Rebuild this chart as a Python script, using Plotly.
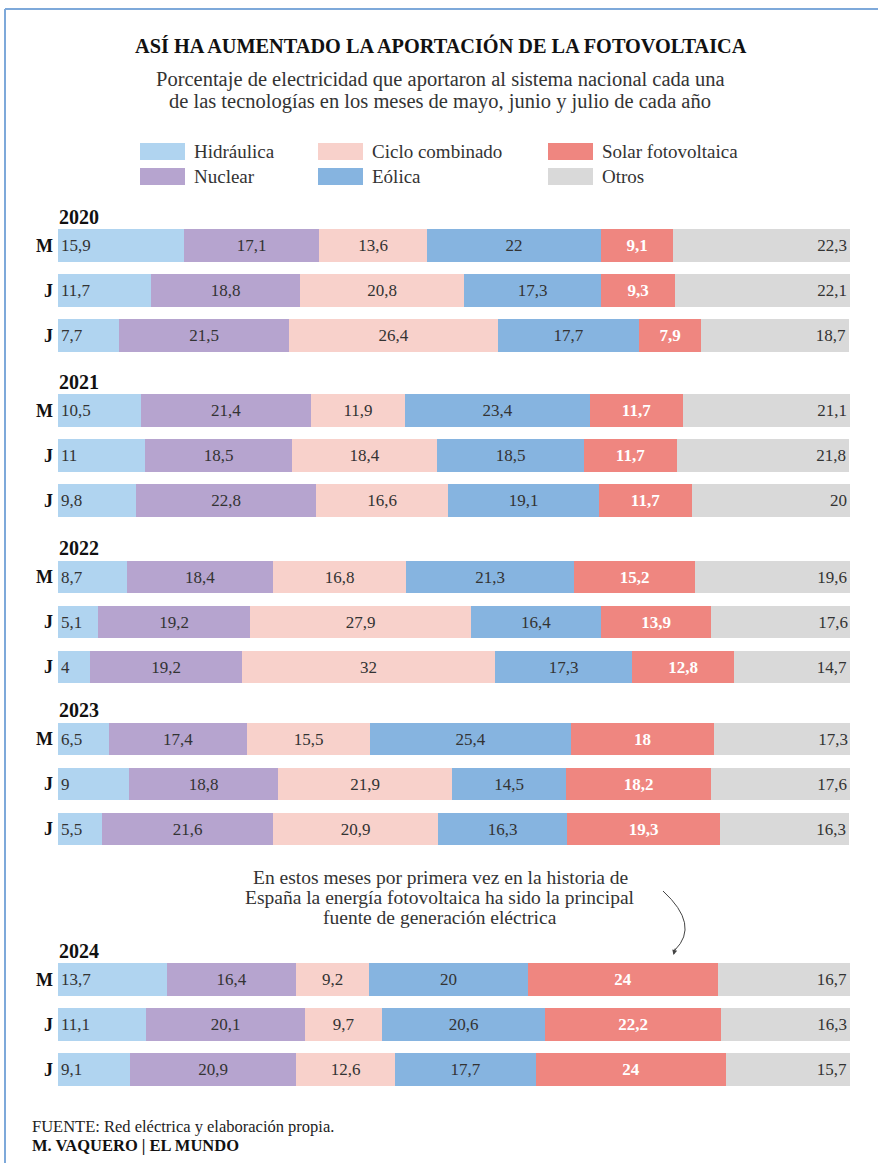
import plotly.graph_objects as go

W, H = 878, 1163

# ---------------- data ----------------
years = ["2020", "2021", "2022", "2023", "2024"]
months = ["M", "J", "J"]
series_names = ["Hidráulica", "Nuclear", "Ciclo combinado", "Eólica", "Solar fotovoltaica", "Otros"]

hidraulica = [15.9, 11.7, 7.7, 10.5, 11, 9.8, 8.7, 5.1, 4, 6.5, 9, 5.5, 13.7, 11.1, 9.1]
nuclear = [17.1, 18.8, 21.5, 21.4, 18.5, 22.8, 18.4, 19.2, 19.2, 17.4, 18.8, 21.6, 16.4, 20.1, 20.9]
ciclo = [13.6, 20.8, 26.4, 11.9, 18.4, 16.6, 16.8, 27.9, 32, 15.5, 21.9, 20.9, 9.2, 9.7, 12.6]
eolica = [22, 17.3, 17.7, 23.4, 18.5, 19.1, 21.3, 16.4, 17.3, 25.4, 14.5, 16.3, 20, 20.6, 17.7]
solar = [9.1, 9.3, 7.9, 11.7, 11.7, 11.7, 15.2, 13.9, 12.8, 18, 18.2, 19.3, 24, 22.2, 24]
otros = [22.3, 22.1, 18.7, 21.1, 21.8, 20, 19.6, 17.6, 14.7, 17.3, 17.6, 16.3, 16.7, 16.3, 15.7]

title = "ASÍ HA AUMENTADO LA APORTACIÓN DE LA FOTOVOLTAICA"
subtitle_lines = ["Porcentaje de electricidad que aportaron al sistema nacional cada una",
                  "de las tecnologías en los meses de mayo, junio y julio de cada año"]
note_lines = ["En estos meses por primera vez en la historia de",
              "España la energía fotovoltaica ha sido la principal",
              "fuente de generación eléctrica"]
source = "FUENTE: Red eléctrica y elaboración propia."
credit = "M. VAQUERO | EL MUNDO"

# ---------------- style ----------------
colors = ["#B0D4F0", "#B6A4CF", "#F8D1CB", "#86B4E0", "#EF8680", "#D9D9D9"]
anchors = ["start", "middle", "middle", "middle", "middle", "end"]
FONT = "Liberation Serif"
TXT = "#333333"

# layout positions (pixel units on y)
group_first = [245.5, 410.5, 577, 739, 979.5]
row_step = 45
bar_h = 32.5
ypos = []
for g in group_first:
    for k in range(3):
        ypos.append(g + k * row_step)

def fmt(v):
    return f"{v:g}".replace(".", ",")

def px(x, y):
    return x / W, 1 - y / H

fig = go.Figure()
all_series = [hidraulica, nuclear, ciclo, eolica, solar, otros]
for name, vals, col, anc in zip(series_names, all_series, colors, anchors):
    is_solar = name == "Solar fotovoltaica"
    fig.add_trace(go.Bar(
        x=vals, y=ypos, orientation="h", name=name,
        width=bar_h,
        marker=dict(color=col, line=dict(width=0)),
        text=[fmt(v) for v in vals],
        textposition="inside", insidetextanchor=anc,
        constraintext="none",
        textfont=dict(family=FONT, size=17,
                      color="white" if is_solar else TXT,
                      weight="bold" if is_solar else "normal"),
        hoverinfo="x+name",
        showlegend=False,
    ))

annotations = []
shapes = []

def txt(x, y, s, size, color=TXT, xanchor="center", bold=False):
    annotations.append(dict(x=x / W, y=y, xref="paper", yref="y",
                            text=f"<b>{s}</b>" if bold else s, showarrow=False,
                            font=dict(family=FONT, size=size, color=color),
                            xanchor=xanchor, yanchor="middle"))

# title & subtitle
txt(441, 45, title, 20.3, color="#111", bold=True)
for i, line in enumerate(subtitle_lines):
    txt(440, 79 + i * 22, line, 20.5)

# legend (custom)
leg_cols = [140, 318, 548]
leg_rows = [151.5, 176.5]
order = [(0, 0, 0), (2, 1, 0), (4, 2, 0), (1, 0, 1), (3, 1, 1), (5, 2, 1)]
for si, c, r in order:
    x0 = leg_cols[c]
    yc = leg_rows[r]
    a0, b0 = px(x0, yc - 8.5)
    a1, b1 = px(x0 + 45, yc + 8.5)
    shapes.append(dict(type="rect", xref="paper", yref="paper", x0=a0, x1=a1, y0=b1, y1=b0,
                       fillcolor=colors[si], line=dict(width=0)))
    txt(x0 + 52, yc, series_names[si], 19, xanchor="left")

# year labels and month labels
for gi, yr in enumerate(years):
    txt(57, group_first[gi] - 29, yr, 20, color="#111", xanchor="left", bold=True)
for i, yv in enumerate(ypos):
    txt(55, yv, months[i % 3], 18, color="#111", xanchor="right", bold=True)

# note
for i, line in enumerate(note_lines):
    txt(440, 877 + i * 20, line, 19.5)

# arrow curve
p0, p1, p2 = px(663, 891), px(700, 925), px(675, 950)
shapes.append(dict(type="path", xref="paper", yref="paper",
                   path=f"M {p0[0]},{p0[1]} Q {p1[0]},{p1[1]} {p2[0]},{p2[1]}",
                   line=dict(color="#444", width=1)))
annotations.append(dict(x=673.5 / W, y=955, xref="paper", yref="y", ax=2, ay=-8,
                        text="", showarrow=True, arrowhead=2, arrowsize=1, arrowwidth=1,
                        arrowcolor="#444"))

# footer
txt(30, 1126, source, 16.5, color="#222", xanchor="left")
txt(30, 1145, credit, 16.5, color="#111", xanchor="left", bold=True)

# frame lines
shapes.append(dict(type="line", xref="paper", yref="paper", x0=px(5, 0)[0], x1=1, y0=px(0, 9)[1], y1=px(0, 9)[1],
                   line=dict(color="#7EA9DA", width=2)))
shapes.append(dict(type="line", xref="paper", yref="paper", x0=px(5, 0)[0], x1=px(5, 0)[0], y0=0, y1=px(0, 9)[1],
                   line=dict(color="#7EA9DA", width=2)))

fig.update_layout(
    width=W, height=H,
    margin=dict(l=0, r=0, t=0, b=0),
    paper_bgcolor="white", plot_bgcolor="white",
    barmode="stack", bargap=0,
    xaxis=dict(domain=[58 / W, 850 / W], range=[0, 100], visible=False, fixedrange=True),
    yaxis=dict(domain=[0, 1], range=[H, 0], visible=False, fixedrange=True),
    annotations=annotations, shapes=shapes,
    font=dict(family=FONT),
)

fig.write_html("out.html", config={"displayModeBar": False},
               post_script="document.body.style.margin='0';document.body.style.padding='0';document.body.style.overflow='hidden';")
